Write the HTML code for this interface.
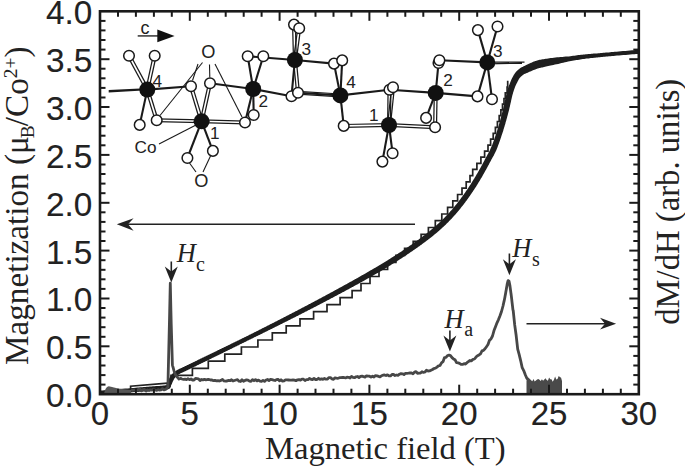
<!DOCTYPE html><html><head><meta charset="utf-8"><style>html,body{margin:0;padding:0;background:#fff;width:685px;height:466px;overflow:hidden;}svg{display:block}</style></head><body>
<svg width="685" height="466" viewBox="0 0 685 466">
<path d="M130.6,391.9 L130.6,386.2 L167.7,383.2 L171.0,383.0 L171.0,375.4 L192.4,375.4 L192.4,368.3 L208.3,368.3 L208.3,361.2 L224.8,361.2 L224.8,354.1 L241.4,354.1 L241.4,347.0 L257.9,347.0 L257.9,340.0 L272.3,340.0 L272.3,332.9 L286.2,332.9 L286.2,325.8 L300.0,325.8 L300.0,318.8 L313.6,318.8 L313.6,311.7 L327.0,311.7 L327.0,304.7 L340.1,304.7 L340.1,297.6 L352.1,297.6 L352.1,290.6 L361.0,290.6 L361.0,283.5 L370.0,283.5 L370.0,276.5 L379.0,276.5 L379.0,269.5 L387.6,269.5 L387.6,262.5 L395.9,262.5 L395.9,255.4 L404.6,255.4 L404.6,248.4 L413.2,248.4 L413.2,241.4 L421.1,241.4 L421.1,234.4 L428.4,234.4 L428.4,227.5 L435.3,227.5 L435.3,220.7 L441.8,220.7 L441.8,214.0 L447.6,214.0 L447.6,207.4 L452.8,207.4 L452.8,200.9 L457.6,200.9 L457.6,194.5 L462.0,194.5 L462.0,188.1 L466.2,188.1 L466.2,181.8 L470.0,181.8 L470.0,175.6 L472.7,175.6 L472.7,169.4 L476.9,169.4 L476.9,163.3 L480.9,163.3 L480.9,157.2 L484.6,157.2 L484.6,151.2 L488.0,151.2 L488.0,145.2 L490.6,145.2 L490.6,139.2 L493.2,139.2 L493.2,133.3 L495.4,133.3 L495.4,127.4 L497.4,127.4 L497.4,121.5 L499.2,121.5 L499.2,115.7 L500.9,115.7 L500.9,109.9 L502.5,109.9 L502.5,104.2 L504.0,104.2 L504.0,98.5 L505.3,98.5 L505.3,92.9 L507.1,92.9 L507.1,87.2 L507.7,87.2 L507.7,80.8" fill="none" stroke="#222" stroke-width="1.7" stroke-linejoin="miter"/>
<path d="M101.2,394.6 L102.6,394.5 L104.4,394.3 L106.6,394.2 L109.0,394.0 L111.6,393.8 L114.4,393.6 L117.3,393.4 L120.1,393.2 L122.9,393.0 L125.5,392.8 L128.0,392.6 L130.2,392.4 L132.2,392.3 L134.1,392.1 L135.9,392.0 L137.6,391.9 L139.3,391.8 L140.9,391.7 L142.5,391.6 L144.1,391.5 L145.6,391.3 L147.1,391.2 L148.7,391.1 L150.2,391.0 L151.7,390.9 L153.3,390.8 L154.8,390.7 L156.4,390.6 L158.0,390.5 L159.5,390.5 L161.0,390.4 L162.4,390.2 L163.7,390.1 L164.9,390.0 L166.0,389.8 L167.0,389.6 L167.9,389.4 L168.6,389.1 L169.4,388.8 L170.0,388.2 L170.5,387.5 L170.9,386.8 L171.0,386.2 L171.0,385.8 L171.0,385.6 L171.0,385.5 L171.0,385.6 L171.0,385.6 L171.2,385.3 L171.4,384.8 L171.6,384.4 L171.8,384.0 L172.0,383.6 L172.1,383.2 L172.3,382.8 L172.4,382.4 L172.6,382.0 L172.7,381.7 L172.9,381.4 L173.0,381.1 L173.2,380.7 L173.4,380.4 L173.6,380.0 L173.7,379.7 L173.9,379.4 L174.1,379.1 L174.2,378.8 L174.4,378.6 L174.6,378.3 L174.8,378.0 L175.0,377.8 L175.2,377.5 L175.5,377.3 L175.8,377.0 L176.1,376.7 L176.4,376.4 L176.7,376.0 L177.1,375.7 L177.4,375.4 L177.8,375.1 L178.2,374.9 L178.5,374.6 L178.9,374.3 L179.3,374.1 L179.6,373.9 L179.9,373.7 L180.3,373.5 L180.6,373.3 L181.0,373.1 L181.4,373.0 L181.8,372.8 L182.2,372.6 L182.7,372.4 L183.1,372.2 L183.5,372.0 L184.0,371.8 L184.4,371.6 L184.8,371.4 L185.2,371.2 L185.7,371.0 L186.1,370.8 L186.5,370.6 L186.9,370.4 L187.3,370.2 L187.7,370.0 L188.2,369.8 L188.6,369.6 L189.0,369.4 L189.4,369.2 L189.8,369.0 L190.2,368.8 L190.7,368.6 L191.1,368.4 L191.5,368.2 L191.9,368.0 L192.3,367.8 L192.7,367.6 L193.2,367.4 L193.6,367.2 L194.0,367.0 L194.4,366.8 L194.8,366.6 L195.2,366.4 L195.7,366.2 L196.1,365.9 L196.5,365.7 L196.9,365.5 L197.3,365.3 L197.7,365.1 L198.2,364.9 L198.6,364.7 L199.0,364.5 L199.4,364.3 L199.8,364.1 L200.2,363.9 L200.7,363.7 L201.1,363.5 L201.5,363.3 L201.9,363.1 L202.3,362.9 L202.7,362.7 L203.2,362.5 L203.6,362.3 L204.0,362.1 L204.4,361.9 L204.8,361.7 L205.2,361.5 L205.7,361.3 L206.1,361.1 L206.5,360.9 L206.9,360.7 L207.3,360.5 L207.7,360.3 L208.2,360.1 L208.6,359.9 L209.0,359.7 L209.4,359.5 L209.8,359.3 L210.2,359.1 L210.7,358.9 L211.1,358.6 L211.5,358.4 L211.9,358.2 L212.3,358.0 L212.7,357.8 L213.2,357.6 L213.6,357.4 L214.0,357.2 L214.4,357.0 L214.8,356.8 L215.2,356.6 L215.6,356.4 L216.1,356.2 L216.5,356.0 L216.9,355.8 L217.3,355.6 L217.7,355.4 L218.1,355.2 L218.6,355.0 L219.0,354.8 L219.4,354.6 L219.8,354.4 L220.2,354.2 L220.6,354.0 L221.1,353.8 L221.5,353.6 L221.9,353.4 L222.3,353.2 L222.7,352.9 L223.1,352.7 L223.6,352.5 L224.0,352.3 L224.4,352.1 L224.8,351.9 L225.2,351.7 L225.6,351.5 L226.1,351.3 L226.5,351.1 L226.9,350.9 L227.3,350.7 L227.7,350.5 L228.1,350.3 L228.6,350.1 L229.0,349.9 L229.4,349.7 L229.8,349.5 L230.2,349.3 L230.6,349.1 L231.1,348.9 L231.5,348.7 L231.9,348.5 L232.3,348.2 L232.7,348.0 L233.1,347.8 L233.6,347.6 L234.0,347.4 L234.4,347.2 L234.8,347.0 L235.2,346.8 L235.6,346.6 L236.1,346.4 L236.5,346.2 L236.9,346.0 L237.3,345.8 L237.7,345.6 L238.1,345.4 L238.6,345.2 L239.0,345.0 L239.4,344.8 L239.8,344.6 L240.2,344.3 L240.6,344.1 L241.1,343.9 L241.5,343.7 L241.9,343.5 L242.3,343.3 L242.7,343.1 L243.1,342.9 L243.6,342.7 L244.0,342.5 L244.4,342.3 L244.8,342.1 L245.2,341.9 L245.6,341.7 L246.1,341.5 L246.5,341.3 L246.9,341.1 L247.3,340.8 L247.7,340.6 L248.1,340.4 L248.6,340.2 L249.0,340.0 L249.4,339.8 L249.8,339.6 L250.2,339.4 L250.6,339.2 L251.1,339.0 L251.5,338.8 L251.9,338.6 L252.3,338.4 L252.7,338.2 L253.1,338.0 L253.6,337.8 L254.0,337.6 L254.4,337.3 L254.8,337.1 L255.2,336.9 L255.7,336.7 L256.1,336.5 L256.5,336.3 L256.9,336.1 L257.3,335.9 L257.7,335.7 L258.2,335.5 L258.6,335.3 L259.0,335.1 L259.4,334.9 L259.8,334.7 L260.3,334.5 L260.7,334.3 L261.1,334.1 L261.5,333.9 L261.9,333.7 L262.3,333.4 L262.8,333.2 L263.2,333.0 L263.6,332.8 L264.0,332.6 L264.4,332.4 L264.9,332.2 L265.3,332.0 L265.7,331.8 L266.1,331.6 L266.5,331.4 L266.9,331.2 L267.4,331.0 L267.8,330.8 L268.2,330.6 L268.6,330.3 L269.0,330.1 L269.4,329.9 L269.9,329.7 L270.3,329.5 L270.7,329.3 L271.1,329.1 L271.5,328.9 L272.0,328.7 L272.4,328.5 L272.8,328.3 L273.2,328.1 L273.6,327.9 L274.0,327.6 L274.5,327.4 L274.9,327.2 L275.3,327.0 L275.7,326.8 L276.1,326.6 L276.6,326.4 L277.0,326.2 L277.4,326.0 L277.8,325.8 L278.2,325.6 L278.6,325.4 L279.1,325.1 L279.5,324.9 L279.9,324.7 L280.3,324.5 L280.7,324.3 L281.2,324.1 L281.6,323.9 L282.0,323.7 L282.4,323.5 L282.8,323.3 L283.2,323.1 L283.7,322.8 L284.1,322.6 L284.5,322.4 L284.9,322.2 L285.3,322.0 L285.7,321.8 L286.2,321.6 L286.6,321.4 L287.0,321.2 L287.4,321.0 L287.8,320.7 L288.3,320.5 L288.7,320.3 L289.1,320.1 L289.5,319.9 L289.9,319.7 L290.3,319.5 L290.8,319.3 L291.2,319.1 L291.6,318.8 L292.0,318.6 L292.4,318.4 L292.9,318.2 L293.3,318.0 L293.7,317.8 L294.1,317.6 L294.5,317.4 L294.9,317.2 L295.4,316.9 L295.8,316.7 L296.2,316.5 L296.6,316.3 L297.0,316.1 L297.5,315.9 L297.9,315.7 L298.3,315.5 L298.7,315.2 L299.1,315.0 L299.5,314.8 L300.0,314.6 L300.4,314.4 L300.8,314.2 L301.2,314.0 L301.6,313.7 L302.1,313.5 L302.5,313.3 L302.9,313.1 L303.3,312.9 L303.7,312.7 L304.1,312.5 L304.6,312.3 L305.0,312.0 L305.4,311.8 L305.8,311.6 L306.2,311.4 L306.7,311.2 L307.1,311.0 L307.5,310.8 L307.9,310.5 L308.3,310.3 L308.7,310.1 L309.2,309.9 L309.6,309.7 L310.0,309.5 L310.4,309.2 L310.8,309.0 L311.3,308.8 L311.7,308.6 L312.1,308.4 L312.5,308.2 L312.9,308.0 L313.3,307.7 L313.8,307.5 L314.2,307.3 L314.6,307.1 L315.0,306.9 L315.4,306.7 L315.9,306.4 L316.3,306.2 L316.7,306.0 L317.1,305.8 L317.5,305.6 L317.9,305.4 L318.4,305.1 L318.8,304.9 L319.2,304.7 L319.6,304.5 L320.0,304.3 L320.5,304.0 L320.9,303.8 L321.3,303.6 L321.7,303.4 L322.1,303.2 L322.5,303.0 L323.0,302.7 L323.4,302.5 L323.8,302.3 L324.2,302.1 L324.6,301.9 L325.1,301.6 L325.5,301.4 L325.9,301.2 L326.3,301.0 L326.7,300.8 L327.1,300.5 L327.6,300.3 L328.0,300.1 L328.4,299.9 L328.8,299.7 L329.2,299.4 L329.7,299.2 L330.1,299.0 L330.5,298.8 L330.9,298.6 L331.3,298.3 L331.7,298.1 L332.2,297.9 L332.6,297.7 L333.0,297.5 L333.4,297.2 L333.8,297.0 L334.3,296.8 L334.7,296.6 L335.1,296.3 L335.5,296.1 L335.9,295.9 L336.3,295.7 L336.8,295.5 L337.2,295.2 L337.6,295.0 L338.0,294.8 L338.4,294.6 L338.9,294.3 L339.3,294.1 L339.7,293.9 L340.1,293.7 L340.5,293.5 L340.9,293.2 L341.4,293.0 L341.8,292.8 L342.2,292.6 L342.6,292.3 L343.0,292.1 L343.5,291.9 L343.9,291.7 L344.3,291.4 L344.7,291.2 L345.1,291.0 L345.5,290.8 L346.0,290.5 L346.4,290.3 L346.8,290.1 L347.2,289.9 L347.6,289.6 L348.1,289.4 L348.5,289.2 L348.9,289.0 L349.3,288.7 L349.7,288.5 L350.1,288.3 L350.6,288.1 L351.0,287.8 L351.4,287.6 L351.8,287.4 L352.2,287.1 L352.7,286.9 L353.1,286.7 L353.5,286.5 L353.9,286.2 L354.3,286.0 L354.7,285.8 L355.2,285.6 L355.6,285.3 L356.0,285.1 L356.4,284.9 L356.8,284.6 L357.3,284.4 L357.7,284.2 L358.1,283.9 L358.5,283.7 L358.9,283.5 L359.4,283.3 L359.8,283.0 L360.2,282.8 L360.6,282.6 L361.0,282.3 L361.4,282.1 L361.9,281.9 L362.3,281.6 L362.7,281.4 L363.1,281.2 L363.5,280.9 L364.0,280.7 L364.4,280.5 L364.8,280.2 L365.2,280.0 L365.6,279.8 L366.1,279.5 L366.5,279.3 L366.9,279.1 L367.3,278.8 L367.7,278.6 L368.1,278.4 L368.6,278.1 L369.0,277.9 L369.4,277.7 L369.8,277.4 L370.2,277.2 L370.7,277.0 L371.1,276.7 L371.5,276.5 L371.9,276.2 L372.3,276.0 L372.8,275.8 L373.2,275.5 L373.6,275.3 L374.0,275.0 L374.4,274.8 L374.9,274.6 L375.3,274.3 L375.7,274.1 L376.1,273.8 L376.5,273.6 L377.0,273.4 L377.4,273.1 L377.8,272.9 L378.2,272.6 L378.6,272.4 L379.0,272.1 L379.5,271.9 L379.9,271.7 L380.3,271.4 L380.7,271.2 L381.1,270.9 L381.6,270.7 L382.0,270.4 L382.4,270.2 L382.8,269.9 L383.2,269.7 L383.7,269.4 L384.1,269.2 L384.5,268.9 L384.9,268.7 L385.3,268.4 L385.7,268.2 L386.2,267.9 L386.6,267.7 L387.0,267.4 L387.4,267.1 L387.8,266.9 L388.3,266.6 L388.7,266.4 L389.1,266.1 L389.5,265.9 L389.9,265.6 L390.4,265.4 L390.8,265.1 L391.2,264.8 L391.6,264.6 L392.0,264.3 L392.4,264.1 L392.9,263.8 L393.3,263.5 L393.7,263.3 L394.1,263.0 L394.5,262.7 L395.0,262.5 L395.4,262.2 L395.8,262.0 L396.2,261.7 L396.6,261.4 L397.1,261.2 L397.5,260.9 L397.9,260.6 L398.3,260.4 L398.7,260.1 L399.2,259.8 L399.6,259.5 L400.0,259.3 L400.4,259.0 L400.8,258.7 L401.2,258.5 L401.7,258.2 L402.1,257.9 L402.5,257.6 L402.9,257.4 L403.3,257.1 L403.8,256.8 L404.2,256.5 L404.6,256.3 L405.0,256.0 L405.4,255.7 L405.9,255.4 L406.3,255.2 L406.7,254.9 L407.1,254.6 L407.5,254.3 L408.0,254.0 L408.4,253.8 L408.8,253.5 L409.2,253.2 L409.6,252.9 L410.0,252.6 L410.5,252.3 L410.9,252.0 L411.3,251.8 L411.7,251.5 L412.1,251.2 L412.6,250.9 L413.0,250.6 L413.4,250.3 L413.8,250.0 L414.2,249.7 L414.7,249.4 L415.1,249.1 L415.5,248.9 L415.9,248.6 L416.3,248.3 L416.8,248.0 L417.2,247.7 L417.6,247.4 L418.0,247.1 L418.4,246.8 L418.9,246.5 L419.3,246.2 L419.7,245.9 L420.1,245.6 L420.5,245.3 L421.0,245.0 L421.4,244.7 L421.8,244.4 L422.2,244.1 L422.6,243.7 L423.0,243.4 L423.5,243.1 L423.9,242.8 L424.3,242.5 L424.7,242.2 L425.2,241.9 L425.6,241.6 L426.0,241.3 L426.4,240.9 L426.8,240.6 L427.3,240.3 L427.7,240.0 L428.1,239.7 L428.5,239.3 L428.9,239.0 L429.4,238.7 L429.8,238.3 L430.2,238.0 L430.6,237.7 L431.0,237.4 L431.5,237.0 L431.9,236.7 L432.3,236.4 L432.7,236.0 L433.2,235.7 L433.6,235.3 L434.0,235.0 L434.4,234.6 L434.9,234.3 L435.3,233.9 L435.7,233.6 L436.1,233.2 L436.5,232.9 L437.0,232.5 L437.4,232.2 L437.8,231.8 L438.2,231.4 L438.7,231.1 L439.1,230.7 L439.5,230.3 L439.9,229.9 L440.3,229.6 L440.8,229.2 L441.2,228.8 L441.6,228.4 L442.0,228.0 L442.5,227.6 L442.9,227.3 L443.3,226.9 L443.7,226.5 L444.2,226.1 L444.6,225.7 L445.0,225.3 L445.4,224.9 L445.9,224.4 L446.3,224.0 L446.7,223.6 L447.1,223.2 L447.5,222.8 L448.0,222.4 L448.4,221.9 L448.8,221.5 L449.2,221.1 L449.7,220.6 L450.1,220.2 L450.5,219.7 L450.9,219.3 L451.4,218.9 L451.8,218.4 L452.2,217.9 L452.6,217.5 L453.1,217.0 L453.5,216.6 L453.9,216.1 L454.3,215.6 L454.8,215.2 L455.2,214.7 L455.6,214.2 L456.0,213.7 L456.4,213.2 L456.9,212.7 L457.3,212.2 L457.7,211.7 L458.1,211.2 L458.6,210.7 L459.0,210.2 L459.4,209.7 L459.8,209.2 L460.3,208.7 L460.7,208.1 L461.1,207.6 L461.5,207.1 L461.9,206.6 L462.4,206.0 L462.8,205.5 L463.2,204.9 L463.6,204.4 L464.1,203.8 L464.5,203.3 L464.9,202.7 L465.3,202.2 L465.7,201.6 L466.2,201.0 L466.6,200.4 L467.0,199.9 L467.4,199.3 L467.9,198.7 L468.3,198.1 L468.7,197.5 L469.1,196.9 L469.5,196.3 L470.0,195.7 L470.4,195.1 L470.8,194.5 L471.2,193.9 L471.6,193.3 L472.1,192.6 L472.5,192.0 L472.9,191.4 L473.3,190.8 L473.8,190.1 L474.2,189.5 L474.6,188.8 L475.0,188.2 L475.4,187.5 L475.9,186.9 L476.3,186.2 L476.7,185.5 L477.1,184.9 L477.5,184.2 L478.0,183.5 L478.4,182.8 L478.8,182.1 L479.2,181.4 L479.7,180.7 L480.1,180.0 L480.5,179.3 L480.9,178.6 L481.3,177.9 L481.8,177.2 L482.2,176.5 L482.6,175.8 L483.0,175.0 L483.4,174.3 L483.9,173.6 L484.3,172.8 L484.7,172.1 L485.1,171.3 L485.5,170.6 L486.0,169.8 L486.4,169.0 L486.8,168.3 L487.2,167.5 L487.6,166.7 L488.0,166.0 L488.4,165.2 L488.9,164.4 L489.3,163.6 L489.7,162.8 L490.1,162.0 L490.6,161.2 L491.0,160.4 L491.4,159.6 L491.9,158.8 L492.3,157.9 L492.8,157.1 L493.3,156.2 L493.8,155.4 L494.2,154.5 L494.7,153.5 L495.2,152.5 L495.7,151.5 L496.2,150.5 L496.6,149.4 L497.1,148.2 L497.6,147.0 L498.0,145.8 L498.5,144.5 L499.0,143.2 L499.4,142.0 L499.9,140.7 L500.3,139.5 L500.7,138.3 L501.1,137.2 L501.4,136.1 L501.8,135.1 L502.1,134.1 L502.4,133.2 L502.7,132.3 L503.0,131.4 L503.3,130.5 L503.5,129.6 L503.8,128.8 L504.0,127.9 L504.3,127.1 L504.6,126.2 L504.8,125.3 L505.1,124.4 L505.4,123.5 L505.6,122.5 L505.9,121.6 L506.2,120.7 L506.4,119.7 L506.7,118.8 L506.9,117.9 L507.2,117.0 L507.4,116.1 L507.7,115.2 L507.9,114.3 L508.1,113.5 L508.3,112.7 L508.5,111.9 L508.7,111.2 L508.9,110.4 L509.1,109.7 L509.3,108.9 L509.4,108.2 L509.6,107.4 L509.8,106.7 L510.0,105.9 L510.1,105.2 L510.3,104.4 L510.5,103.6 L510.7,102.7 L510.9,101.9 L511.1,101.1 L511.2,100.2 L511.4,99.4 L511.6,98.6 L511.8,97.9 L511.9,97.1 L512.1,96.4 L512.3,95.7 L512.4,95.1 L512.6,94.5 L512.8,93.9 L512.9,93.4 L513.1,92.8 L513.2,92.3 L513.4,91.8 L513.6,91.3 L513.7,90.8 L513.9,90.3 L514.1,89.8 L514.2,89.3 L514.4,88.8 L514.6,88.3 L514.7,87.9 L514.9,87.5 L515.0,87.0 L515.2,86.6 L515.4,86.2 L515.5,85.8 L515.7,85.4 L515.9,85.0 L516.1,84.5 L516.4,84.0 L516.6,83.5 L516.9,83.0 L517.2,82.4 L517.5,81.8 L517.8,81.2 L518.1,80.7 L518.4,80.1 L518.7,79.5 L519.0,79.0 L519.3,78.5 L519.6,78.1 L519.9,77.7 L520.2,77.4 L520.5,77.1 L520.8,76.8 L521.1,76.5 L521.4,76.2 L521.7,75.9 L522.0,75.7 L522.3,75.4 L522.6,75.2 L522.9,74.9 L523.3,74.7 L523.6,74.5 L523.9,74.3 L524.1,74.1 L524.4,74.0 L524.6,73.9 L524.9,73.8 L525.2,73.7 L525.5,73.5 L525.9,73.4 L526.2,73.2 L526.7,73.1 L527.1,72.9 L527.6,72.7 L528.0,72.5 L528.5,72.3 L529.0,72.0 L529.5,71.8 L530.0,71.6 L530.5,71.4 L531.0,71.2 L531.5,71.0 L532.0,70.7 L532.5,70.5 L533.0,70.3 L533.5,70.1 L534.0,69.9 L534.5,69.7 L535.0,69.5 L535.4,69.4 L535.8,69.2 L536.2,69.0 L536.6,68.9 L537.0,68.7 L537.5,68.6 L538.0,68.4 L538.6,68.3 L539.2,68.1 L539.9,68.0 L540.7,67.8 L541.5,67.6 L542.3,67.4 L543.1,67.2 L544.1,67.0 L545.0,66.7 L546.0,66.5 L547.1,66.3 L548.2,66.0 L549.4,65.8 L550.6,65.5 L552.0,65.2 L553.4,64.9 L554.9,64.6 L556.5,64.3 L558.2,63.9 L559.9,63.5 L561.5,63.1 L563.2,62.7 L564.9,62.3 L566.5,61.9 L568.1,61.6 L569.6,61.2 L571.0,60.9 L572.4,60.7 L573.8,60.5 L575.1,60.3 L576.5,60.1 L577.8,59.9 L579.1,59.7 L580.3,59.5 L581.6,59.3 L582.8,59.1 L584.1,58.9 L585.3,58.8 L586.4,58.6 L587.6,58.5 L588.7,58.4 L589.7,58.2 L590.8,58.1 L591.8,58.0 L592.9,57.9 L594.0,57.8 L595.1,57.7 L596.2,57.6 L597.4,57.4 L598.6,57.3 L599.8,57.2 L601.1,57.1 L602.3,56.9 L603.6,56.8 L604.9,56.7 L606.2,56.6 L607.6,56.5 L609.0,56.3 L610.5,56.2 L612.0,56.1 L613.5,55.9 L615.2,55.8 L617.0,55.6 L619.0,55.5 L621.1,55.3 L623.4,55.1 L625.7,54.9 L628.0,54.7 L630.2,54.5 L632.3,54.3 L634.3,54.2 L636.0,54.0 L637.5,53.9 L638.7,53.8 L638.3,49.8 L637.2,49.9 L635.7,50.0 L633.9,50.2 L632.0,50.3 L629.9,50.5 L627.6,50.7 L625.3,50.9 L623.0,51.1 L620.8,51.3 L618.6,51.5 L616.6,51.7 L614.8,51.8 L613.2,52.0 L611.6,52.1 L610.1,52.2 L608.7,52.4 L607.3,52.5 L605.9,52.6 L604.6,52.7 L603.3,52.8 L602.0,53.0 L600.7,53.1 L599.5,53.2 L598.2,53.3 L597.0,53.4 L595.8,53.5 L594.7,53.6 L593.6,53.6 L592.5,53.7 L591.5,53.8 L590.4,53.9 L589.3,54.0 L588.2,54.1 L587.1,54.2 L585.9,54.3 L584.7,54.4 L583.5,54.5 L582.3,54.7 L581.0,54.8 L579.7,55.0 L578.4,55.1 L577.1,55.3 L575.8,55.5 L574.5,55.7 L573.1,55.8 L571.7,56.0 L570.3,56.2 L568.8,56.4 L567.3,56.5 L565.7,56.6 L564.0,56.8 L562.3,56.9 L560.6,57.0 L558.8,57.2 L557.1,57.3 L555.4,57.5 L553.8,57.7 L552.2,57.9 L550.7,58.1 L549.4,58.3 L548.1,58.5 L546.9,58.7 L545.7,58.8 L544.6,59.0 L543.5,59.2 L542.5,59.3 L541.5,59.5 L540.6,59.7 L539.7,59.8 L538.8,60.0 L538.0,60.2 L537.2,60.5 L536.4,60.7 L535.7,60.9 L535.0,61.1 L534.4,61.4 L533.8,61.6 L533.3,61.8 L532.8,62.0 L532.3,62.2 L531.9,62.5 L531.4,62.7 L531.0,62.8 L530.5,63.1 L530.0,63.3 L529.5,63.5 L528.9,63.8 L528.4,64.0 L527.9,64.3 L527.3,64.5 L526.8,64.8 L526.3,65.0 L525.8,65.2 L525.3,65.5 L524.9,65.7 L524.4,65.9 L524.0,66.1 L523.7,66.3 L523.3,66.5 L522.9,66.7 L522.5,66.9 L522.1,67.1 L521.7,67.3 L521.2,67.5 L520.8,67.8 L520.3,68.1 L519.9,68.4 L519.4,68.7 L519.0,69.1 L518.6,69.4 L518.2,69.8 L517.8,70.1 L517.4,70.5 L516.9,70.9 L516.5,71.3 L516.1,71.8 L515.7,72.3 L515.3,72.8 L514.9,73.3 L514.5,73.9 L514.1,74.4 L513.7,75.1 L513.4,75.7 L513.0,76.4 L512.7,77.0 L512.3,77.7 L512.0,78.3 L511.7,79.0 L511.4,79.6 L511.1,80.2 L510.9,80.8 L510.6,81.4 L510.4,81.9 L510.2,82.4 L510.0,82.9 L509.8,83.4 L509.6,83.9 L509.4,84.4 L509.2,84.9 L509.0,85.3 L508.9,85.8 L508.7,86.3 L508.5,86.8 L508.4,87.3 L508.2,87.8 L508.0,88.4 L507.9,88.9 L507.7,89.4 L507.5,90.0 L507.4,90.5 L507.2,91.1 L507.0,91.7 L506.9,92.3 L506.7,92.9 L506.5,93.6 L506.3,94.3 L506.2,95.0 L506.0,95.7 L505.8,96.5 L505.6,97.3 L505.5,98.1 L505.3,99.0 L505.1,99.8 L504.9,100.6 L504.8,101.5 L504.6,102.3 L504.4,103.1 L504.3,103.8 L504.1,104.6 L503.9,105.3 L503.7,106.1 L503.6,106.8 L503.4,107.5 L503.2,108.3 L503.1,109.0 L502.9,109.7 L502.7,110.5 L502.5,111.3 L502.3,112.0 L502.1,112.9 L501.9,113.7 L501.7,114.6 L501.4,115.4 L501.2,116.3 L501.0,117.2 L500.7,118.2 L500.5,119.1 L500.2,120.0 L500.0,120.9 L499.7,121.9 L499.4,122.8 L499.2,123.7 L498.9,124.6 L498.7,125.4 L498.4,126.3 L498.2,127.1 L498.0,128.0 L497.7,128.8 L497.4,129.7 L497.2,130.5 L496.9,131.4 L496.6,132.3 L496.3,133.3 L496.0,134.3 L495.6,135.3 L495.2,136.4 L494.8,137.6 L494.4,138.8 L494.0,140.0 L493.5,141.3 L493.1,142.5 L492.6,143.7 L492.2,144.9 L491.7,146.0 L491.3,147.1 L490.8,148.1 L490.4,149.1 L490.0,150.0 L489.5,150.9 L489.1,151.8 L488.6,152.6 L488.2,153.5 L487.7,154.3 L487.3,155.1 L486.8,155.9 L486.4,156.8 L485.9,157.6 L485.4,158.5 L485.0,159.3 L484.6,160.1 L484.2,160.9 L483.7,161.7 L483.3,162.5 L482.9,163.2 L482.5,164.0 L482.1,164.8 L481.7,165.5 L481.3,166.3 L480.9,167.0 L480.5,167.7 L480.1,168.5 L479.6,169.2 L479.2,170.0 L478.8,170.7 L478.4,171.4 L478.0,172.1 L477.6,172.9 L477.2,173.6 L476.7,174.3 L476.3,175.0 L475.9,175.7 L475.5,176.4 L475.1,177.1 L474.7,177.8 L474.3,178.4 L473.9,179.1 L473.4,179.8 L473.0,180.5 L472.6,181.1 L472.2,181.8 L471.8,182.4 L471.4,183.1 L471.0,183.7 L470.6,184.4 L470.1,185.0 L469.7,185.7 L469.3,186.3 L468.9,186.9 L468.5,187.6 L468.1,188.2 L467.7,188.8 L467.3,189.4 L466.9,190.0 L466.4,190.6 L466.0,191.2 L465.6,191.8 L465.2,192.4 L464.8,193.0 L464.4,193.6 L464.0,194.2 L463.6,194.7 L463.1,195.3 L462.7,195.9 L462.3,196.5 L461.9,197.0 L461.5,197.6 L461.1,198.1 L460.7,198.7 L460.3,199.2 L459.9,199.8 L459.4,200.3 L459.0,200.9 L458.6,201.4 L458.2,201.9 L457.8,202.4 L457.4,203.0 L457.0,203.5 L456.6,204.0 L456.2,204.5 L455.7,205.0 L455.3,205.5 L454.9,206.0 L454.5,206.5 L454.1,207.0 L453.7,207.5 L453.3,208.0 L452.9,208.5 L452.5,208.9 L452.1,209.4 L451.6,209.9 L451.2,210.4 L450.8,210.8 L450.4,211.3 L450.0,211.8 L449.6,212.2 L449.2,212.7 L448.8,213.1 L448.4,213.6 L448.0,214.0 L447.5,214.4 L447.1,214.9 L446.7,215.3 L446.3,215.7 L445.9,216.2 L445.5,216.6 L445.1,217.0 L444.7,217.4 L444.3,217.8 L443.9,218.3 L443.5,218.7 L443.0,219.1 L442.6,219.5 L442.2,219.9 L441.8,220.3 L441.4,220.7 L441.0,221.1 L440.6,221.5 L440.2,221.9 L439.8,222.2 L439.4,222.6 L438.9,223.0 L438.5,223.4 L438.1,223.8 L437.7,224.1 L437.3,224.5 L436.9,224.9 L436.5,225.2 L436.1,225.6 L435.7,226.0 L435.3,226.3 L434.8,226.7 L434.4,227.0 L434.0,227.4 L433.6,227.7 L433.2,228.1 L432.8,228.4 L432.4,228.8 L432.0,229.1 L431.6,229.5 L431.1,229.8 L430.7,230.2 L430.3,230.5 L429.9,230.8 L429.5,231.2 L429.1,231.5 L428.7,231.8 L428.3,232.2 L427.9,232.5 L427.5,232.8 L427.0,233.1 L426.6,233.5 L426.2,233.8 L425.8,234.1 L425.4,234.4 L425.0,234.7 L424.6,235.1 L424.2,235.4 L423.7,235.7 L423.3,236.0 L422.9,236.3 L422.5,236.6 L422.1,236.9 L421.7,237.2 L421.3,237.5 L420.9,237.8 L420.4,238.2 L420.0,238.5 L419.6,238.8 L419.2,239.1 L418.8,239.4 L418.4,239.7 L418.0,240.0 L417.5,240.3 L417.1,240.6 L416.7,240.9 L416.3,241.2 L415.9,241.5 L415.5,241.8 L415.1,242.1 L414.7,242.3 L414.2,242.6 L413.8,242.9 L413.4,243.2 L413.0,243.5 L412.6,243.8 L412.2,244.1 L411.8,244.4 L411.3,244.7 L410.9,245.0 L410.5,245.3 L410.1,245.5 L409.7,245.8 L409.3,246.1 L408.9,246.4 L408.4,246.7 L408.0,247.0 L407.6,247.3 L407.2,247.5 L406.8,247.8 L406.4,248.1 L406.0,248.4 L405.5,248.7 L405.1,248.9 L404.7,249.2 L404.3,249.5 L403.9,249.8 L403.5,250.1 L403.1,250.3 L402.6,250.6 L402.2,250.9 L401.8,251.2 L401.4,251.4 L401.0,251.7 L400.6,252.0 L400.2,252.2 L399.7,252.5 L399.3,252.8 L398.9,253.1 L398.5,253.3 L398.1,253.6 L397.7,253.9 L397.3,254.1 L396.8,254.4 L396.4,254.7 L396.0,254.9 L395.6,255.2 L395.2,255.5 L394.8,255.7 L394.4,256.0 L393.9,256.3 L393.5,256.5 L393.1,256.8 L392.7,257.1 L392.3,257.3 L391.9,257.6 L391.5,257.8 L391.0,258.1 L390.6,258.4 L390.2,258.6 L389.8,258.9 L389.4,259.1 L389.0,259.4 L388.6,259.6 L388.1,259.9 L387.7,260.2 L387.3,260.4 L386.9,260.7 L386.5,260.9 L386.1,261.2 L385.7,261.4 L385.2,261.7 L384.8,261.9 L384.4,262.2 L384.0,262.4 L383.6,262.7 L383.2,262.9 L382.8,263.2 L382.3,263.4 L381.9,263.7 L381.5,263.9 L381.1,264.2 L380.7,264.4 L380.3,264.7 L379.8,264.9 L379.4,265.2 L379.0,265.4 L378.6,265.7 L378.2,265.9 L377.8,266.2 L377.4,266.4 L376.9,266.7 L376.5,266.9 L376.1,267.2 L375.7,267.4 L375.3,267.7 L374.9,267.9 L374.5,268.1 L374.0,268.4 L373.6,268.6 L373.2,268.9 L372.8,269.1 L372.4,269.4 L372.0,269.6 L371.6,269.9 L371.2,270.1 L370.7,270.3 L370.3,270.6 L369.9,270.8 L369.5,271.1 L369.1,271.3 L368.7,271.5 L368.3,271.8 L367.8,272.0 L367.4,272.3 L367.0,272.5 L366.6,272.7 L366.2,273.0 L365.8,273.2 L365.4,273.5 L364.9,273.7 L364.5,273.9 L364.1,274.2 L363.7,274.4 L363.3,274.6 L362.9,274.9 L362.5,275.1 L362.0,275.3 L361.6,275.6 L361.2,275.8 L360.8,276.1 L360.4,276.3 L360.0,276.5 L359.6,276.8 L359.1,277.0 L358.7,277.2 L358.3,277.5 L357.9,277.7 L357.5,277.9 L357.1,278.2 L356.6,278.4 L356.2,278.6 L355.8,278.9 L355.4,279.1 L355.0,279.3 L354.6,279.6 L354.2,279.8 L353.7,280.0 L353.3,280.3 L352.9,280.5 L352.5,280.7 L352.1,280.9 L351.7,281.2 L351.3,281.4 L350.8,281.6 L350.4,281.9 L350.0,282.1 L349.6,282.3 L349.2,282.6 L348.8,282.8 L348.4,283.0 L347.9,283.3 L347.5,283.5 L347.1,283.7 L346.7,283.9 L346.3,284.2 L345.9,284.4 L345.4,284.6 L345.0,284.9 L344.6,285.1 L344.2,285.3 L343.8,285.5 L343.4,285.8 L343.0,286.0 L342.5,286.2 L342.1,286.5 L341.7,286.7 L341.3,286.9 L340.9,287.1 L340.5,287.4 L340.1,287.6 L339.6,287.8 L339.2,288.1 L338.8,288.3 L338.4,288.5 L338.0,288.7 L337.6,289.0 L337.1,289.2 L336.7,289.4 L336.3,289.6 L335.9,289.9 L335.5,290.1 L335.1,290.3 L334.7,290.5 L334.2,290.8 L333.8,291.0 L333.4,291.2 L333.0,291.4 L332.6,291.7 L332.2,291.9 L331.7,292.1 L331.3,292.4 L330.9,292.6 L330.5,292.8 L330.1,293.0 L329.7,293.2 L329.3,293.5 L328.8,293.7 L328.4,293.9 L328.0,294.1 L327.6,294.4 L327.2,294.6 L326.8,294.8 L326.4,295.0 L325.9,295.3 L325.5,295.5 L325.1,295.7 L324.7,295.9 L324.3,296.2 L323.9,296.4 L323.4,296.6 L323.0,296.8 L322.6,297.1 L322.2,297.3 L321.8,297.5 L321.4,297.7 L321.0,297.9 L320.5,298.2 L320.1,298.4 L319.7,298.6 L319.3,298.8 L318.9,299.0 L318.5,299.3 L318.0,299.5 L317.6,299.7 L317.2,299.9 L316.8,300.2 L316.4,300.4 L316.0,300.6 L315.6,300.8 L315.1,301.0 L314.7,301.3 L314.3,301.5 L313.9,301.7 L313.5,301.9 L313.1,302.1 L312.7,302.4 L312.2,302.6 L311.8,302.8 L311.4,303.0 L311.0,303.2 L310.6,303.5 L310.2,303.7 L309.7,303.9 L309.3,304.1 L308.9,304.3 L308.5,304.6 L308.1,304.8 L307.7,305.0 L307.3,305.2 L306.8,305.4 L306.4,305.7 L306.0,305.9 L305.6,306.1 L305.2,306.3 L304.8,306.5 L304.3,306.7 L303.9,307.0 L303.5,307.2 L303.1,307.4 L302.7,307.6 L302.3,307.8 L301.9,308.1 L301.4,308.3 L301.0,308.5 L300.6,308.7 L300.2,308.9 L299.8,309.1 L299.4,309.4 L299.0,309.6 L298.5,309.8 L298.1,310.0 L297.7,310.2 L297.3,310.4 L296.9,310.7 L296.5,310.9 L296.0,311.1 L295.6,311.3 L295.2,311.5 L294.8,311.7 L294.4,312.0 L294.0,312.2 L293.6,312.4 L293.1,312.6 L292.7,312.8 L292.3,313.0 L291.9,313.2 L291.5,313.5 L291.1,313.7 L290.6,313.9 L290.2,314.1 L289.8,314.3 L289.4,314.5 L289.0,314.8 L288.6,315.0 L288.2,315.2 L287.7,315.4 L287.3,315.6 L286.9,315.8 L286.5,316.0 L286.1,316.3 L285.7,316.5 L285.2,316.7 L284.8,316.9 L284.4,317.1 L284.0,317.3 L283.6,317.5 L283.2,317.8 L282.8,318.0 L282.3,318.2 L281.9,318.4 L281.5,318.6 L281.1,318.8 L280.7,319.0 L280.3,319.2 L279.8,319.5 L279.4,319.7 L279.0,319.9 L278.6,320.1 L278.2,320.3 L277.8,320.5 L277.4,320.7 L276.9,321.0 L276.5,321.2 L276.1,321.4 L275.7,321.6 L275.3,321.8 L274.9,322.0 L274.4,322.2 L274.0,322.4 L273.6,322.7 L273.2,322.9 L272.8,323.1 L272.4,323.3 L272.0,323.5 L271.5,323.7 L271.1,323.9 L270.7,324.1 L270.3,324.3 L269.9,324.6 L269.5,324.8 L269.0,325.0 L268.6,325.2 L268.2,325.4 L267.8,325.6 L267.4,325.8 L267.0,326.0 L266.6,326.2 L266.1,326.5 L265.7,326.7 L265.3,326.9 L264.9,327.1 L264.5,327.3 L264.1,327.5 L263.6,327.7 L263.2,327.9 L262.8,328.1 L262.4,328.3 L262.0,328.6 L261.6,328.8 L261.2,329.0 L260.7,329.2 L260.3,329.4 L259.9,329.6 L259.5,329.8 L259.1,330.0 L258.7,330.2 L258.2,330.4 L257.8,330.7 L257.4,330.9 L257.0,331.1 L256.6,331.3 L256.2,331.5 L255.8,331.7 L255.3,331.9 L254.9,332.1 L254.5,332.3 L254.1,332.5 L253.7,332.7 L253.3,333.0 L252.8,333.2 L252.4,333.4 L252.0,333.6 L251.6,333.8 L251.2,334.0 L250.8,334.2 L250.4,334.4 L249.9,334.6 L249.5,334.8 L249.1,335.0 L248.7,335.2 L248.3,335.5 L247.9,335.7 L247.4,335.9 L247.0,336.1 L246.6,336.3 L246.2,336.5 L245.8,336.7 L245.4,336.9 L244.9,337.1 L244.5,337.3 L244.1,337.5 L243.7,337.7 L243.3,337.9 L242.9,338.1 L242.4,338.3 L242.0,338.5 L241.6,338.7 L241.2,338.9 L240.8,339.1 L240.4,339.4 L239.9,339.6 L239.5,339.8 L239.1,340.0 L238.7,340.2 L238.3,340.4 L237.9,340.6 L237.4,340.8 L237.0,341.0 L236.6,341.2 L236.2,341.4 L235.8,341.6 L235.4,341.8 L234.9,342.0 L234.5,342.2 L234.1,342.4 L233.7,342.6 L233.3,342.8 L232.9,343.0 L232.4,343.2 L232.0,343.4 L231.6,343.6 L231.2,343.8 L230.8,344.1 L230.4,344.3 L229.9,344.5 L229.5,344.7 L229.1,344.9 L228.7,345.1 L228.3,345.3 L227.9,345.5 L227.4,345.7 L227.0,345.9 L226.6,346.1 L226.2,346.3 L225.8,346.5 L225.4,346.7 L224.9,346.9 L224.5,347.1 L224.1,347.3 L223.7,347.5 L223.3,347.7 L222.9,347.9 L222.4,348.1 L222.0,348.3 L221.6,348.5 L221.2,348.7 L220.8,348.9 L220.4,349.1 L219.9,349.3 L219.5,349.5 L219.1,349.7 L218.7,349.9 L218.3,350.1 L217.9,350.3 L217.4,350.6 L217.0,350.8 L216.6,351.0 L216.2,351.2 L215.8,351.4 L215.4,351.6 L214.9,351.8 L214.5,352.0 L214.1,352.2 L213.7,352.4 L213.3,352.6 L212.9,352.8 L212.4,353.0 L212.0,353.2 L211.6,353.4 L211.2,353.6 L210.8,353.8 L210.3,354.0 L209.9,354.2 L209.5,354.4 L209.1,354.6 L208.7,354.8 L208.3,355.0 L207.8,355.2 L207.4,355.4 L207.0,355.6 L206.6,355.8 L206.2,356.0 L205.8,356.2 L205.3,356.4 L204.9,356.6 L204.5,356.8 L204.1,357.0 L203.7,357.2 L203.3,357.4 L202.8,357.6 L202.4,357.8 L202.0,358.0 L201.6,358.2 L201.2,358.4 L200.8,358.6 L200.3,358.8 L199.9,359.0 L199.5,359.2 L199.1,359.4 L198.7,359.6 L198.3,359.8 L197.8,360.0 L197.4,360.2 L197.0,360.5 L196.6,360.7 L196.2,360.9 L195.8,361.1 L195.3,361.3 L194.9,361.5 L194.5,361.7 L194.1,361.9 L193.7,362.1 L193.3,362.3 L192.8,362.5 L192.4,362.7 L192.0,362.9 L191.6,363.1 L191.2,363.3 L190.8,363.5 L190.3,363.7 L189.9,363.9 L189.5,364.1 L189.1,364.3 L188.7,364.5 L188.3,364.7 L187.8,364.9 L187.4,365.1 L187.0,365.3 L186.6,365.5 L186.2,365.7 L185.8,365.9 L185.3,366.1 L184.9,366.3 L184.5,366.5 L184.1,366.7 L183.7,366.9 L183.3,367.1 L182.8,367.3 L182.4,367.5 L182.0,367.7 L181.6,367.9 L181.2,368.1 L180.8,368.2 L180.4,368.4 L180.0,368.6 L179.5,368.8 L179.1,369.0 L178.6,369.2 L178.2,369.4 L177.7,369.7 L177.2,370.0 L176.7,370.3 L176.3,370.6 L175.9,370.9 L175.4,371.2 L175.0,371.5 L174.5,371.9 L174.1,372.2 L173.7,372.6 L173.3,373.0 L172.9,373.3 L172.5,373.7 L172.1,374.1 L171.8,374.5 L171.4,374.9 L171.1,375.3 L170.8,375.6 L170.6,376.0 L170.3,376.4 L170.1,376.8 L169.9,377.2 L169.7,377.5 L169.5,377.9 L169.3,378.2 L169.1,378.6 L169.0,378.9 L168.7,379.4 L168.5,379.8 L168.4,380.2 L168.2,380.7 L168.0,381.1 L167.9,381.5 L167.7,381.9 L167.6,382.2 L167.4,382.5 L167.3,382.8 L167.2,383.1 L167.0,383.4 L166.7,384.0 L166.5,384.6 L166.4,385.2 L166.4,385.5 L166.4,385.6 L166.5,385.5 L166.6,385.2 L166.8,385.0 L166.9,384.9 L166.8,384.9 L166.5,385.0 L166.0,385.2 L165.2,385.3 L164.3,385.4 L163.2,385.6 L162.0,385.7 L160.6,385.8 L159.2,385.9 L157.7,386.0 L156.1,386.1 L154.6,386.2 L153.0,386.3 L151.4,386.5 L149.8,386.6 L148.3,386.7 L146.8,386.8 L145.3,387.0 L143.8,387.1 L142.2,387.2 L140.6,387.3 L139.0,387.4 L137.3,387.6 L135.6,387.7 L133.7,387.9 L131.8,388.0 L129.8,388.2 L127.6,388.4 L125.2,388.6 L122.5,388.8 L119.8,389.0 L116.9,389.3 L114.1,389.5 L111.3,389.7 L108.7,389.9 L106.3,390.1 L104.1,390.3 L102.3,390.5 L100.8,390.6 Z" fill="#1e1e1e" stroke="none"/>
<path d="M131.0,389.8 L132.5,390.4 L134.0,390.0 L135.5,390.5 L137.0,390.5 L138.5,389.3 L140.0,389.2 L141.5,390.8 L143.0,389.6 L144.5,389.5 L146.0,391.0 L147.5,389.9 L149.0,390.6 L150.5,389.8 L152.0,390.1 L153.5,389.1 L155.0,390.0 L156.5,390.4 L158.0,389.7 L159.5,390.1 L161.0,389.9 L162.5,388.6 L164.0,389.8 L165.5,389.4 L167.0,388.0 L167.3,387.7 L167.6,387.3 L167.9,387.0 L168.2,374.4 L168.5,361.9 L168.8,349.3 L169.1,336.7 L169.4,324.2 L169.7,310.8 L170.0,297.0 L170.3,283.2 L170.6,297.0 L170.9,310.8 L171.2,323.5 L171.5,333.8 L171.8,344.2 L172.1,354.6 L172.4,365.0 L172.7,366.1 L173.0,367.1 L173.3,368.2 L173.6,369.3 L173.9,370.4 L174.2,371.4 L174.5,372.5 L174.8,373.1 L175.1,373.7 L175.4,374.4 L175.7,375.0 L176.0,375.2 L177.5,377.4 L179.0,379.1 L180.5,378.4 L182.0,379.0 L183.5,379.4 L185.0,379.2 L186.5,379.7 L188.0,378.7 L189.5,379.6 L191.0,379.0 L192.5,380.0 L194.0,380.0 L195.5,378.5 L197.0,378.7 L198.5,378.9 L200.0,380.5 L201.5,379.5 L203.0,379.9 L204.5,379.3 L206.0,379.8 L207.5,379.5 L209.0,379.5 L210.5,380.0 L212.0,380.0 L213.5,380.7 L215.0,380.3 L216.5,380.8 L218.0,380.7 L219.5,381.0 L221.0,380.4 L222.5,379.4 L224.0,380.9 L225.5,381.1 L227.0,381.0 L228.5,380.4 L230.0,380.7 L231.5,379.8 L233.0,381.0 L234.5,380.5 L236.0,380.0 L237.5,379.6 L239.0,381.2 L240.5,381.5 L242.0,379.8 L243.5,381.2 L245.0,380.4 L246.5,379.9 L248.0,380.1 L249.5,381.1 L251.0,381.3 L252.5,379.6 L254.0,380.7 L255.5,379.6 L257.0,380.9 L258.5,380.1 L260.0,381.2 L261.5,381.4 L263.0,380.4 L264.5,381.4 L266.0,380.0 L267.5,379.5 L269.0,380.5 L270.5,379.4 L272.0,379.7 L273.5,380.1 L275.0,380.5 L276.5,379.6 L278.0,379.3 L279.5,380.9 L281.0,379.8 L282.5,381.1 L284.0,380.9 L285.5,379.8 L287.0,379.9 L288.5,380.0 L290.0,380.2 L291.5,380.1 L293.0,380.0 L294.5,380.1 L296.0,380.7 L297.5,379.8 L299.0,379.6 L300.5,380.1 L302.0,379.1 L303.5,379.2 L305.0,380.5 L306.5,379.6 L308.0,379.6 L309.5,378.5 L311.0,379.3 L312.5,379.5 L314.0,378.4 L315.5,379.5 L317.0,379.5 L318.5,378.3 L320.0,379.3 L321.5,378.9 L323.0,379.3 L324.5,378.5 L326.0,379.2 L327.5,379.1 L329.0,377.6 L330.5,377.6 L332.0,378.8 L333.5,379.3 L335.0,377.8 L336.5,378.1 L338.0,378.3 L339.5,377.7 L341.0,377.7 L342.5,377.5 L344.0,377.5 L345.5,377.9 L347.0,377.2 L348.5,377.3 L350.0,378.0 L351.5,376.4 L353.0,377.4 L354.5,377.7 L356.0,376.8 L357.5,376.5 L359.0,377.6 L360.5,376.4 L362.0,376.2 L363.5,376.7 L365.0,377.1 L366.5,375.8 L368.0,376.2 L369.5,376.2 L371.0,377.1 L372.5,376.2 L374.0,377.0 L375.5,375.6 L377.0,375.8 L378.5,376.4 L380.0,376.8 L381.5,375.8 L383.0,375.2 L384.5,374.9 L386.0,375.6 L387.5,374.8 L389.0,375.9 L390.5,375.9 L392.0,374.5 L393.5,374.5 L395.0,375.5 L396.5,375.0 L398.0,375.3 L399.5,374.2 L401.0,373.6 L402.5,373.8 L404.0,374.6 L405.5,373.3 L407.0,373.3 L408.5,373.2 L410.0,373.0 L411.5,372.9 L413.0,373.7 L414.5,372.1 L416.0,371.6 L417.5,373.3 L419.0,373.1 L420.5,373.1 L422.0,371.7 L423.5,372.4 L425.0,372.0 L426.5,370.3 L428.0,371.0 L429.5,370.9 L431.0,370.2 L432.5,369.5 L434.0,368.5 L435.5,368.1 L437.0,367.1 L438.5,365.8 L440.0,365.5 L441.5,362.9 L443.0,361.7 L444.5,357.6 L446.0,357.4 L447.5,355.5 L449.0,355.2 L450.5,355.7 L452.0,357.6 L453.5,358.9 L455.0,359.7 L456.5,362.7 L458.0,362.8 L459.5,363.4 L461.0,364.4 L462.5,364.4 L464.0,363.7 L465.5,364.1 L467.0,362.7 L468.5,361.5 L470.0,360.5 L471.5,360.9 L473.0,359.3 L474.5,359.0 L476.0,357.1 L477.5,355.7 L479.0,354.9 L480.5,353.8 L482.0,350.9 L483.5,350.4 L485.0,348.8 L486.5,346.7 L488.0,344.5 L489.5,340.3 L491.0,338.9 L492.5,336.0 L494.0,330.6 L495.5,326.7 L497.0,322.8 L498.5,319.6 L500.0,315.8 L501.5,311.5 L503.0,306.0 L503.3,304.6 L503.6,303.3 L503.9,301.9 L504.2,300.6 L504.5,299.2 L504.8,297.7 L505.1,296.1 L505.4,294.4 L505.7,292.8 L506.0,291.1 L506.3,289.4 L506.6,287.6 L506.9,285.9 L507.2,284.1 L507.5,282.8 L507.8,281.7 L508.1,280.6 L508.4,280.7 L508.7,280.9 L509.0,281.0 L509.3,282.5 L509.6,284.0 L509.9,285.5 L510.2,287.7 L510.5,289.9 L510.8,292.1 L511.1,294.3 L511.4,296.7 L511.7,299.2 L512.0,301.8 L512.3,304.3 L512.6,306.9 L512.9,309.7 L513.2,310.5 L514.7,324.9 L516.2,335.8 L517.7,349.1 L519.2,354.6 L520.7,360.8 L522.2,367.7 L523.7,370.6 L525.2,374.5 L526.7,378.0 L528.2,379.7" fill="none" stroke="#474747" stroke-width="2.8" stroke-linejoin="round"/>
<path d="M104,393.5 L105.5,389 L107,387 L108.7,386.2 L111,386.8 L114,387.6 L118,388.4 L124,389.3 L131,390 L131,393.5 Z" fill="#555"/>
<path d="M526.5,393.5 L526.5,381.0 L527.5,377.4 L528.7,378.0 L529.9,379.1 L531.1,380.3 L532.3,381.3 L533.5,379.1 L534.7,381.4 L535.9,380.4 L537.1,379.4 L538.3,379.0 L539.5,379.7 L540.7,380.9 L541.9,379.3 L543.1,380.8 L544.3,379.5 L545.5,378.3 L546.7,379.9 L547.9,380.8 L549.1,377.4 L550.3,379.3 L551.5,379.3 L552.7,381.8 L553.9,379.7 L555.1,376.6 L556.3,379.4 L557.5,378.9 L558.7,375.9 L559.9,377.1 L561.1,377.7 L562.0,381.0 L562.0,393.5 Z" fill="#4a4a4a"/>
<path d="M566,393.5 L566,390.5 L568,390.5 L568,393.5 Z" fill="#4a4a4a"/>
<g stroke="#1a1a1a" fill="none">
<rect x="100.0" y="11.3" width="538.8" height="382.9" stroke-width="2.6"/>
<line x1="118.0" y1="394.2" x2="118.0" y2="388.7" stroke-width="2"/>
<line x1="118.0" y1="11.3" x2="118.0" y2="16.8" stroke-width="2"/>
<line x1="135.9" y1="394.2" x2="135.9" y2="388.7" stroke-width="2"/>
<line x1="135.9" y1="11.3" x2="135.9" y2="16.8" stroke-width="2"/>
<line x1="153.9" y1="394.2" x2="153.9" y2="388.7" stroke-width="2"/>
<line x1="153.9" y1="11.3" x2="153.9" y2="16.8" stroke-width="2"/>
<line x1="171.8" y1="394.2" x2="171.8" y2="388.7" stroke-width="2"/>
<line x1="171.8" y1="11.3" x2="171.8" y2="16.8" stroke-width="2"/>
<line x1="189.8" y1="394.2" x2="189.8" y2="384.7" stroke-width="2"/>
<line x1="189.8" y1="11.3" x2="189.8" y2="20.8" stroke-width="2"/>
<line x1="207.8" y1="394.2" x2="207.8" y2="388.7" stroke-width="2"/>
<line x1="207.8" y1="11.3" x2="207.8" y2="16.8" stroke-width="2"/>
<line x1="225.7" y1="394.2" x2="225.7" y2="388.7" stroke-width="2"/>
<line x1="225.7" y1="11.3" x2="225.7" y2="16.8" stroke-width="2"/>
<line x1="243.7" y1="394.2" x2="243.7" y2="388.7" stroke-width="2"/>
<line x1="243.7" y1="11.3" x2="243.7" y2="16.8" stroke-width="2"/>
<line x1="261.6" y1="394.2" x2="261.6" y2="388.7" stroke-width="2"/>
<line x1="261.6" y1="11.3" x2="261.6" y2="16.8" stroke-width="2"/>
<line x1="279.6" y1="394.2" x2="279.6" y2="384.7" stroke-width="2"/>
<line x1="279.6" y1="11.3" x2="279.6" y2="20.8" stroke-width="2"/>
<line x1="297.6" y1="394.2" x2="297.6" y2="388.7" stroke-width="2"/>
<line x1="297.6" y1="11.3" x2="297.6" y2="16.8" stroke-width="2"/>
<line x1="315.5" y1="394.2" x2="315.5" y2="388.7" stroke-width="2"/>
<line x1="315.5" y1="11.3" x2="315.5" y2="16.8" stroke-width="2"/>
<line x1="333.5" y1="394.2" x2="333.5" y2="388.7" stroke-width="2"/>
<line x1="333.5" y1="11.3" x2="333.5" y2="16.8" stroke-width="2"/>
<line x1="351.4" y1="394.2" x2="351.4" y2="388.7" stroke-width="2"/>
<line x1="351.4" y1="11.3" x2="351.4" y2="16.8" stroke-width="2"/>
<line x1="369.4" y1="394.2" x2="369.4" y2="384.7" stroke-width="2"/>
<line x1="369.4" y1="11.3" x2="369.4" y2="20.8" stroke-width="2"/>
<line x1="387.4" y1="394.2" x2="387.4" y2="388.7" stroke-width="2"/>
<line x1="387.4" y1="11.3" x2="387.4" y2="16.8" stroke-width="2"/>
<line x1="405.3" y1="394.2" x2="405.3" y2="388.7" stroke-width="2"/>
<line x1="405.3" y1="11.3" x2="405.3" y2="16.8" stroke-width="2"/>
<line x1="423.3" y1="394.2" x2="423.3" y2="388.7" stroke-width="2"/>
<line x1="423.3" y1="11.3" x2="423.3" y2="16.8" stroke-width="2"/>
<line x1="441.2" y1="394.2" x2="441.2" y2="388.7" stroke-width="2"/>
<line x1="441.2" y1="11.3" x2="441.2" y2="16.8" stroke-width="2"/>
<line x1="459.2" y1="394.2" x2="459.2" y2="384.7" stroke-width="2"/>
<line x1="459.2" y1="11.3" x2="459.2" y2="20.8" stroke-width="2"/>
<line x1="477.2" y1="394.2" x2="477.2" y2="388.7" stroke-width="2"/>
<line x1="477.2" y1="11.3" x2="477.2" y2="16.8" stroke-width="2"/>
<line x1="495.1" y1="394.2" x2="495.1" y2="388.7" stroke-width="2"/>
<line x1="495.1" y1="11.3" x2="495.1" y2="16.8" stroke-width="2"/>
<line x1="513.1" y1="394.2" x2="513.1" y2="388.7" stroke-width="2"/>
<line x1="513.1" y1="11.3" x2="513.1" y2="16.8" stroke-width="2"/>
<line x1="531.0" y1="394.2" x2="531.0" y2="388.7" stroke-width="2"/>
<line x1="531.0" y1="11.3" x2="531.0" y2="16.8" stroke-width="2"/>
<line x1="549.0" y1="394.2" x2="549.0" y2="384.7" stroke-width="2"/>
<line x1="549.0" y1="11.3" x2="549.0" y2="20.8" stroke-width="2"/>
<line x1="567.0" y1="394.2" x2="567.0" y2="388.7" stroke-width="2"/>
<line x1="567.0" y1="11.3" x2="567.0" y2="16.8" stroke-width="2"/>
<line x1="584.9" y1="394.2" x2="584.9" y2="388.7" stroke-width="2"/>
<line x1="584.9" y1="11.3" x2="584.9" y2="16.8" stroke-width="2"/>
<line x1="602.9" y1="394.2" x2="602.9" y2="388.7" stroke-width="2"/>
<line x1="602.9" y1="11.3" x2="602.9" y2="16.8" stroke-width="2"/>
<line x1="620.8" y1="394.2" x2="620.8" y2="388.7" stroke-width="2"/>
<line x1="620.8" y1="11.3" x2="620.8" y2="16.8" stroke-width="2"/>
<line x1="100.0" y1="384.6" x2="105.5" y2="384.6" stroke-width="2"/>
<line x1="638.8" y1="384.6" x2="633.3" y2="384.6" stroke-width="2"/>
<line x1="100.0" y1="375.1" x2="105.5" y2="375.1" stroke-width="2"/>
<line x1="638.8" y1="375.1" x2="633.3" y2="375.1" stroke-width="2"/>
<line x1="100.0" y1="365.5" x2="105.5" y2="365.5" stroke-width="2"/>
<line x1="638.8" y1="365.5" x2="633.3" y2="365.5" stroke-width="2"/>
<line x1="100.0" y1="355.9" x2="105.5" y2="355.9" stroke-width="2"/>
<line x1="638.8" y1="355.9" x2="633.3" y2="355.9" stroke-width="2"/>
<line x1="100.0" y1="346.3" x2="109.5" y2="346.3" stroke-width="2"/>
<line x1="638.8" y1="346.3" x2="629.3" y2="346.3" stroke-width="2"/>
<line x1="100.0" y1="336.8" x2="105.5" y2="336.8" stroke-width="2"/>
<line x1="638.8" y1="336.8" x2="633.3" y2="336.8" stroke-width="2"/>
<line x1="100.0" y1="327.2" x2="105.5" y2="327.2" stroke-width="2"/>
<line x1="638.8" y1="327.2" x2="633.3" y2="327.2" stroke-width="2"/>
<line x1="100.0" y1="317.6" x2="105.5" y2="317.6" stroke-width="2"/>
<line x1="638.8" y1="317.6" x2="633.3" y2="317.6" stroke-width="2"/>
<line x1="100.0" y1="308.0" x2="105.5" y2="308.0" stroke-width="2"/>
<line x1="638.8" y1="308.0" x2="633.3" y2="308.0" stroke-width="2"/>
<line x1="100.0" y1="298.5" x2="109.5" y2="298.5" stroke-width="2"/>
<line x1="638.8" y1="298.5" x2="629.3" y2="298.5" stroke-width="2"/>
<line x1="100.0" y1="288.9" x2="105.5" y2="288.9" stroke-width="2"/>
<line x1="638.8" y1="288.9" x2="633.3" y2="288.9" stroke-width="2"/>
<line x1="100.0" y1="279.3" x2="105.5" y2="279.3" stroke-width="2"/>
<line x1="638.8" y1="279.3" x2="633.3" y2="279.3" stroke-width="2"/>
<line x1="100.0" y1="269.8" x2="105.5" y2="269.8" stroke-width="2"/>
<line x1="638.8" y1="269.8" x2="633.3" y2="269.8" stroke-width="2"/>
<line x1="100.0" y1="260.2" x2="105.5" y2="260.2" stroke-width="2"/>
<line x1="638.8" y1="260.2" x2="633.3" y2="260.2" stroke-width="2"/>
<line x1="100.0" y1="250.6" x2="109.5" y2="250.6" stroke-width="2"/>
<line x1="638.8" y1="250.6" x2="629.3" y2="250.6" stroke-width="2"/>
<line x1="100.0" y1="241.0" x2="105.5" y2="241.0" stroke-width="2"/>
<line x1="638.8" y1="241.0" x2="633.3" y2="241.0" stroke-width="2"/>
<line x1="100.0" y1="231.5" x2="105.5" y2="231.5" stroke-width="2"/>
<line x1="638.8" y1="231.5" x2="633.3" y2="231.5" stroke-width="2"/>
<line x1="100.0" y1="221.9" x2="105.5" y2="221.9" stroke-width="2"/>
<line x1="638.8" y1="221.9" x2="633.3" y2="221.9" stroke-width="2"/>
<line x1="100.0" y1="212.3" x2="105.5" y2="212.3" stroke-width="2"/>
<line x1="638.8" y1="212.3" x2="633.3" y2="212.3" stroke-width="2"/>
<line x1="100.0" y1="202.8" x2="109.5" y2="202.8" stroke-width="2"/>
<line x1="638.8" y1="202.8" x2="629.3" y2="202.8" stroke-width="2"/>
<line x1="100.0" y1="193.2" x2="105.5" y2="193.2" stroke-width="2"/>
<line x1="638.8" y1="193.2" x2="633.3" y2="193.2" stroke-width="2"/>
<line x1="100.0" y1="183.6" x2="105.5" y2="183.6" stroke-width="2"/>
<line x1="638.8" y1="183.6" x2="633.3" y2="183.6" stroke-width="2"/>
<line x1="100.0" y1="174.0" x2="105.5" y2="174.0" stroke-width="2"/>
<line x1="638.8" y1="174.0" x2="633.3" y2="174.0" stroke-width="2"/>
<line x1="100.0" y1="164.5" x2="105.5" y2="164.5" stroke-width="2"/>
<line x1="638.8" y1="164.5" x2="633.3" y2="164.5" stroke-width="2"/>
<line x1="100.0" y1="154.9" x2="109.5" y2="154.9" stroke-width="2"/>
<line x1="638.8" y1="154.9" x2="629.3" y2="154.9" stroke-width="2"/>
<line x1="100.0" y1="145.3" x2="105.5" y2="145.3" stroke-width="2"/>
<line x1="638.8" y1="145.3" x2="633.3" y2="145.3" stroke-width="2"/>
<line x1="100.0" y1="135.7" x2="105.5" y2="135.7" stroke-width="2"/>
<line x1="638.8" y1="135.7" x2="633.3" y2="135.7" stroke-width="2"/>
<line x1="100.0" y1="126.2" x2="105.5" y2="126.2" stroke-width="2"/>
<line x1="638.8" y1="126.2" x2="633.3" y2="126.2" stroke-width="2"/>
<line x1="100.0" y1="116.6" x2="105.5" y2="116.6" stroke-width="2"/>
<line x1="638.8" y1="116.6" x2="633.3" y2="116.6" stroke-width="2"/>
<line x1="100.0" y1="107.0" x2="109.5" y2="107.0" stroke-width="2"/>
<line x1="638.8" y1="107.0" x2="629.3" y2="107.0" stroke-width="2"/>
<line x1="100.0" y1="97.5" x2="105.5" y2="97.5" stroke-width="2"/>
<line x1="638.8" y1="97.5" x2="633.3" y2="97.5" stroke-width="2"/>
<line x1="100.0" y1="87.9" x2="105.5" y2="87.9" stroke-width="2"/>
<line x1="638.8" y1="87.9" x2="633.3" y2="87.9" stroke-width="2"/>
<line x1="100.0" y1="78.3" x2="105.5" y2="78.3" stroke-width="2"/>
<line x1="638.8" y1="78.3" x2="633.3" y2="78.3" stroke-width="2"/>
<line x1="100.0" y1="68.7" x2="105.5" y2="68.7" stroke-width="2"/>
<line x1="638.8" y1="68.7" x2="633.3" y2="68.7" stroke-width="2"/>
<line x1="100.0" y1="59.2" x2="109.5" y2="59.2" stroke-width="2"/>
<line x1="638.8" y1="59.2" x2="629.3" y2="59.2" stroke-width="2"/>
<line x1="100.0" y1="49.6" x2="105.5" y2="49.6" stroke-width="2"/>
<line x1="638.8" y1="49.6" x2="633.3" y2="49.6" stroke-width="2"/>
<line x1="100.0" y1="40.0" x2="105.5" y2="40.0" stroke-width="2"/>
<line x1="638.8" y1="40.0" x2="633.3" y2="40.0" stroke-width="2"/>
<line x1="100.0" y1="30.4" x2="105.5" y2="30.4" stroke-width="2"/>
<line x1="638.8" y1="30.4" x2="633.3" y2="30.4" stroke-width="2"/>
<line x1="100.0" y1="20.9" x2="105.5" y2="20.9" stroke-width="2"/>
<line x1="638.8" y1="20.9" x2="633.3" y2="20.9" stroke-width="2"/>
</g>
<g font-family="'Liberation Sans', sans-serif" font-size="33.3" fill="#222" stroke="#222" stroke-width="0.12">
<text x="92.2" y="407.1" text-anchor="end">0.0</text>
<text x="92.2" y="359.2" text-anchor="end">0.5</text>
<text x="92.2" y="311.4" text-anchor="end">1.0</text>
<text x="92.2" y="263.5" text-anchor="end">1.5</text>
<text x="92.2" y="215.7" text-anchor="end">2.0</text>
<text x="92.2" y="167.8" text-anchor="end">2.5</text>
<text x="92.2" y="119.9" text-anchor="end">3.0</text>
<text x="92.2" y="72.1" text-anchor="end">3.5</text>
<text x="92.2" y="24.2" text-anchor="end">4.0</text>
<text x="100.0" y="424.9" text-anchor="middle" font-size="33">0</text>
<text x="189.8" y="424.9" text-anchor="middle" font-size="33">5</text>
<text x="279.6" y="424.9" text-anchor="middle" font-size="33">10</text>
<text x="369.4" y="424.9" text-anchor="middle" font-size="33">15</text>
<text x="459.2" y="424.9" text-anchor="middle" font-size="33">20</text>
<text x="549.0" y="424.9" text-anchor="middle" font-size="33">25</text>
<text x="638.8" y="424.9" text-anchor="middle" font-size="33">30</text>
</g>
<g font-family="'Liberation Serif', serif" font-size="32" fill="#222">
<text transform="translate(28.3,365) rotate(-90)" font-size="33.2">Magnetization (μ<tspan font-size="19.5" dy="6" dx="-2">B</tspan><tspan dy="-6" dx="-1">/Co</tspan><tspan font-size="19.5" dy="-11">2+</tspan><tspan dy="11">)</tspan></text>
<text transform="translate(678.8,324.8) rotate(-90)" font-size="32.7">dM/dH (arb. units)</text>
<text x="265" y="458.7" font-size="32.6">Magnetic field (T)</text>
</g>
<g stroke="#222" fill="#222">
<line x1="415" y1="224.2" x2="125" y2="224.2" stroke-width="1.6"/>
<path d="M116.8,224.2 L133.6,218.2 L128,224.2 L133.6,230.7 Z" stroke="none"/>
<line x1="526.5" y1="323.7" x2="608" y2="323.7" stroke-width="1.6"/>
<path d="M616.1,323.7 L600,317.8 L605,323.7 L600,329.4 Z" stroke="none"/>
<line x1="171.3" y1="261.5" x2="171.3" y2="274.5" stroke-width="1.6"/>
<path d="M171.3,282.5 L164.8,266.5 L171.3,271.5 L177.8,266.5 Z" stroke="none"/>
<line x1="449.9" y1="330.5" x2="449.9" y2="343.4" stroke-width="1.6"/>
<path d="M449.9,351.4 L443.4,335.4 L449.9,340.4 L456.4,335.4 Z" stroke="none"/>
<line x1="509.4" y1="253.5" x2="509.4" y2="267.3" stroke-width="1.6"/>
<path d="M509.4,275.3 L502.9,259.3 L509.4,264.3 L515.9,259.3 Z" stroke="none"/>
</g>
<g font-family="'Liberation Serif', serif" fill="#222">
<text x="176.8" y="261.8" font-size="26.5" font-style="italic">H</text><text x="196" y="270.5" font-size="20">c</text>
<text x="444.5" y="327.8" font-size="26.5" font-style="italic">H</text><text x="464.2" y="336" font-size="20">a</text>
<text x="512.2" y="257.3" font-size="26.5" font-style="italic">H</text><text x="532" y="265.8" font-size="20">s</text>
</g>
<g stroke="#1a1a1a" fill="none" stroke-linecap="butt">
<path d="M108.7,91.8 L147.3,89.6 M108.7,90.6 L140,89.2" stroke-width="1.3"/>
<path d="M487.3,62.2 L524.5,62.1 M487.3,63.8 L522,63.3" stroke-width="1.2"/>
<line x1="298" y1="92.7" x2="340.4" y2="95.4" stroke-width="2"/>
<line x1="148.6" y1="88.9" x2="130.3" y2="55.0" stroke-width="1.25"/>
<line x1="146.0" y1="90.3" x2="127.7" y2="56.4" stroke-width="1.25"/>
<line x1="148.7" y1="89.9" x2="156.1" y2="56.0" stroke-width="1.25"/>
<line x1="145.9" y1="89.3" x2="153.3" y2="55.4" stroke-width="1.25"/>
<line x1="147.3" y1="89.6" x2="139.7" y2="124.9" stroke-width="2.1"/>
<line x1="145.9" y1="90.0" x2="155.3" y2="120.6" stroke-width="1.25"/>
<line x1="148.7" y1="89.2" x2="158.1" y2="119.8" stroke-width="1.25"/>
<line x1="147.3" y1="89.6" x2="191.0" y2="86.3" stroke-width="2.1"/>
<line x1="156.7" y1="121.6" x2="201.6" y2="122.7" stroke-width="1.25"/>
<line x1="156.7" y1="118.8" x2="201.6" y2="119.9" stroke-width="1.25"/>
<line x1="203.0" y1="120.9" x2="192.4" y2="85.9" stroke-width="1.25"/>
<line x1="200.2" y1="121.7" x2="189.6" y2="86.7" stroke-width="1.25"/>
<line x1="203.0" y1="121.6" x2="211.4" y2="83.5" stroke-width="1.25"/>
<line x1="200.2" y1="121.0" x2="208.6" y2="82.9" stroke-width="1.25"/>
<line x1="201.6" y1="121.3" x2="187.4" y2="158.0" stroke-width="2.1"/>
<line x1="201.6" y1="121.3" x2="212.9" y2="150.9" stroke-width="2.1"/>
<line x1="201.6" y1="122.7" x2="245.0" y2="123.9" stroke-width="1.25"/>
<line x1="201.6" y1="119.9" x2="245.0" y2="121.1" stroke-width="1.25"/>
<line x1="210.0" y1="83.2" x2="253.2" y2="89.0" stroke-width="2.1"/>
<line x1="253.2" y1="89.0" x2="247.7" y2="56.2" stroke-width="2.1"/>
<line x1="253.2" y1="89.0" x2="263.3" y2="56.2" stroke-width="2.1"/>
<line x1="253.2" y1="89.0" x2="245.0" y2="122.5" stroke-width="2.1"/>
<line x1="253.2" y1="89.0" x2="253.7" y2="115.0" stroke-width="2.1"/>
<line x1="253.2" y1="89.0" x2="291.5" y2="96.2" stroke-width="2.1"/>
<line x1="247.7" y1="56.2" x2="294.9" y2="60.0" stroke-width="2.1"/>
<line x1="296.3" y1="60.0" x2="295.4" y2="24.6" stroke-width="1.25"/>
<line x1="293.5" y1="60.0" x2="292.6" y2="24.6" stroke-width="1.25"/>
<line x1="296.3" y1="60.2" x2="300.6" y2="28.4" stroke-width="1.25"/>
<line x1="293.5" y1="59.8" x2="297.8" y2="28.0" stroke-width="1.25"/>
<line x1="294.9" y1="60.0" x2="291.5" y2="96.2" stroke-width="2.1"/>
<line x1="293.5" y1="60.1" x2="296.6" y2="92.8" stroke-width="1.25"/>
<line x1="296.3" y1="59.9" x2="299.4" y2="92.6" stroke-width="1.25"/>
<line x1="294.9" y1="60.0" x2="334.0" y2="63.6" stroke-width="2.1"/>
<line x1="297.9" y1="94.1" x2="340.3" y2="96.8" stroke-width="1.25"/>
<line x1="298.1" y1="91.3" x2="340.5" y2="94.0" stroke-width="1.25"/>
<line x1="340.4" y1="95.4" x2="334.0" y2="63.6" stroke-width="2.1"/>
<line x1="340.4" y1="95.4" x2="342.2" y2="60.4" stroke-width="2.1"/>
<line x1="340.4" y1="95.4" x2="343.7" y2="125.9" stroke-width="2.1"/>
<line x1="340.4" y1="95.4" x2="389.5" y2="89.8" stroke-width="2.1"/>
<line x1="343.7" y1="127.3" x2="389.0" y2="126.4" stroke-width="1.25"/>
<line x1="343.7" y1="124.5" x2="389.0" y2="123.6" stroke-width="1.25"/>
<line x1="390.4" y1="125.0" x2="390.9" y2="89.8" stroke-width="1.25"/>
<line x1="387.6" y1="125.0" x2="388.1" y2="89.8" stroke-width="1.25"/>
<line x1="390.4" y1="125.2" x2="394.4" y2="87.4" stroke-width="1.25"/>
<line x1="387.6" y1="124.8" x2="391.6" y2="87.0" stroke-width="1.25"/>
<line x1="389.0" y1="125.0" x2="382.4" y2="161.6" stroke-width="2.1"/>
<line x1="389.0" y1="125.0" x2="392.6" y2="153.3" stroke-width="2.1"/>
<line x1="388.9" y1="126.4" x2="435.0" y2="128.7" stroke-width="1.25"/>
<line x1="389.1" y1="123.6" x2="435.2" y2="125.9" stroke-width="1.25"/>
<line x1="389.5" y1="89.8" x2="435.7" y2="92.9" stroke-width="2.1"/>
<line x1="435.7" y1="92.9" x2="438.5" y2="63.0" stroke-width="2.1"/>
<line x1="435.7" y1="92.9" x2="426.1" y2="117.9" stroke-width="2.1"/>
<line x1="434.3" y1="92.9" x2="433.7" y2="127.3" stroke-width="1.25"/>
<line x1="437.1" y1="92.9" x2="436.5" y2="127.3" stroke-width="1.25"/>
<line x1="435.7" y1="92.9" x2="477.5" y2="96.4" stroke-width="2.1"/>
<line x1="439.4" y1="60.3" x2="487.3" y2="62.4" stroke-width="2.1"/>
<line x1="487.3" y1="62.4" x2="477.9" y2="30.1" stroke-width="2.1"/>
<line x1="487.3" y1="62.4" x2="497.5" y2="26.5" stroke-width="2.1"/>
<line x1="487.3" y1="62.4" x2="477.5" y2="96.4" stroke-width="2.1"/>
<line x1="487.3" y1="62.4" x2="492.0" y2="99.3" stroke-width="2.1"/>
<g stroke-width="1.1">
<line x1="202.5" y1="62.5" x2="160" y2="115.5"/>
<line x1="198" y1="64" x2="192.5" y2="80.5"/>
<line x1="209.5" y1="64.5" x2="209.8" y2="77.5"/>
<line x1="215" y1="64" x2="242" y2="117"/>
<line x1="196" y1="172" x2="189.5" y2="163"/>
<line x1="203" y1="172" x2="210.5" y2="156"/>
<line x1="159" y1="144" x2="196" y2="125"/>
</g>
</g>
<g fill="#fff" stroke="#1a1a1a" stroke-width="1.5">
<circle cx="129.0" cy="55.7" r="5.3"/>
<circle cx="154.7" cy="55.7" r="5.3"/>
<circle cx="139.7" cy="124.9" r="5.3"/>
<circle cx="156.7" cy="120.2" r="5.3"/>
<circle cx="191.0" cy="86.3" r="5.3"/>
<circle cx="210.0" cy="83.2" r="5.3"/>
<circle cx="187.4" cy="158.0" r="5.3"/>
<circle cx="212.9" cy="150.9" r="5.3"/>
<circle cx="247.7" cy="56.2" r="5.3"/>
<circle cx="263.3" cy="56.2" r="5.3"/>
<circle cx="245.0" cy="122.5" r="5.3"/>
<circle cx="253.7" cy="115.0" r="5.3"/>
<circle cx="294.0" cy="24.6" r="5.3"/>
<circle cx="299.2" cy="28.2" r="5.3"/>
<circle cx="291.5" cy="96.2" r="5.3"/>
<circle cx="298.0" cy="92.7" r="5.3"/>
<circle cx="334.0" cy="63.6" r="5.3"/>
<circle cx="342.2" cy="60.4" r="5.3"/>
<circle cx="343.7" cy="125.9" r="5.3"/>
<circle cx="389.5" cy="89.8" r="5.3"/>
<circle cx="393.0" cy="87.2" r="5.3"/>
<circle cx="382.4" cy="161.6" r="5.3"/>
<circle cx="392.6" cy="153.3" r="5.3"/>
<circle cx="426.1" cy="117.9" r="5.3"/>
<circle cx="435.1" cy="127.3" r="5.3"/>
<circle cx="438.5" cy="63.0" r="5.3"/>
<circle cx="439.4" cy="60.3" r="5.3"/>
<circle cx="477.5" cy="96.4" r="5.3"/>
<circle cx="477.9" cy="30.1" r="5.3"/>
<circle cx="497.5" cy="26.5" r="5.3"/>
<circle cx="492.0" cy="99.3" r="5.3"/>
</g>
<g fill="#111">
<circle cx="147.3" cy="89.6" r="8"/>
<circle cx="201.6" cy="121.3" r="8"/>
<circle cx="253.2" cy="89.0" r="8"/>
<circle cx="294.9" cy="60.0" r="8"/>
<circle cx="340.4" cy="95.4" r="8"/>
<circle cx="389.0" cy="125.0" r="8"/>
<circle cx="435.7" cy="92.9" r="8"/>
<circle cx="487.3" cy="62.4" r="8"/>
</g>
<g font-family="'Liberation Sans', sans-serif" font-size="17.2" fill="#222">
<text x="152.4" y="86.7">4</text>
<text x="209.9" y="139.0">1</text>
<text x="258.4" y="106.6">2</text>
<text x="301.4" y="55.0">3</text>
<text x="346.3" y="88.3">4</text>
<text x="368.9" y="120.5">1</text>
<text x="443.3" y="86.0">2</text>
<text x="493.1" y="57.2">3</text>
<text x="201.2" y="58.2" font-size="18.2">O</text>
<text x="194.2" y="186.8" font-size="18.2">O</text>
<text x="134.6" y="153.3">Co</text>
<text x="140.6" y="34.0" font-size="18">c</text>
</g>
<line x1="137.7" y1="35.9" x2="160" y2="35.9" stroke="#555" stroke-width="1.8"/>
<path d="M157.3,29.6 L174.6,36.0 L157.3,42.3 Z" fill="#111"/>
</svg></body></html>
